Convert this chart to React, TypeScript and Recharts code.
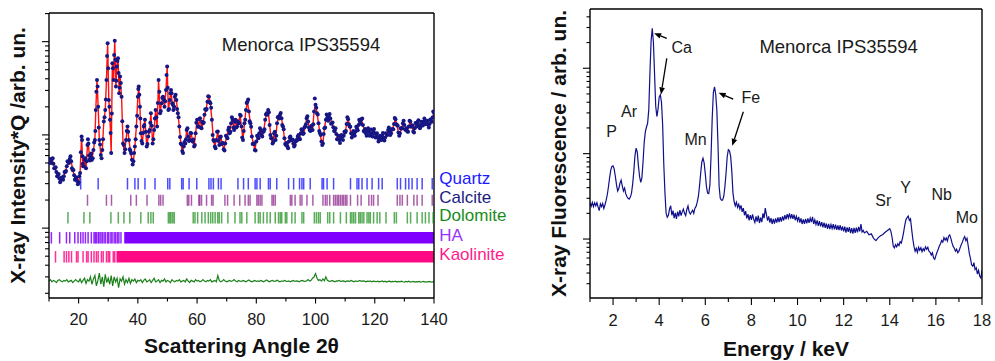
import React from 'react';
import { ComposedChart, XAxis, YAxis, Line, Scatter, ReferenceDot, ReferenceLine } from 'recharts';

const FONT = "'Liberation Sans', Arial, Helvetica, sans-serif";

// ---------------- XRD (left) data ----------------
// calculated profile (red line) – also observed points at the same angles
const xrdPattern: [number, number][] = [
  [10.0,5.0],[10.5,5.2],[11.0,5.5],[11.5,4.9],[12.0,4.4],[12.5,4.0],[13.0,3.7],[13.5,3.4],[14.0,3.3],[14.5,3.4],
  [15.0,3.6],[15.5,4.0],[16.0,4.6],[16.5,5.1],[17.0,5.5],[17.5,5.2],[18.0,4.2],[18.5,3.7],[19.0,3.4],[19.5,3.2],
  [20.0,3.1],[20.5,3.9],[21.0,9.6],[21.3,5.9],[21.5,4.6],[22.0,5.4],[22.5,4.4],[23.0,7.8],[23.3,8.1],[23.7,5.4],
  [24.0,5.9],[24.5,5.4],[25.0,6.9],[25.5,8.8],[25.8,18.5],[26.2,38.8],[26.6,20.1],[27.0,8.8],[27.5,6.1],[28.0,6.9],
  [28.5,13.9],[29.0,18.5],[29.4,38.8],[29.8,95.9],[30.2,23.7],[30.6,14.5],[31.0,6.4],[31.4,58.6],[31.8,38.8],[32.2,102],
  [32.6,33.0],[32.9,54],[33.3,66.3],[33.7,27.9],[34.0,42.2],[34.5,25.7],[35.0,8.1],[35.5,6.4],[36.0,8.8],[36.5,12.3],
  [37.0,8.8],[37.5,6.7],[38.0,5.4],[38.5,5.2],[39.0,7.5],[39.5,12.3],[40.0,25.7],[40.3,33.0],[40.7,20.1],[41.0,10.4],
  [41.5,8.1],[42.0,12.3],[42.4,14.5],[43.0,7.5],[43.5,9.6],[44.0,11.3],[44.4,17.1],[45.0,8.1],[45.5,11.3],[46.0,18.5],
  [46.5,12.3],[47.0,38.8],[47.5,17.1],[48.0,21.8],[48.5,25.7],[49.0,20.1],[49.5,30.4],[49.9,54],[50.3,18.5],[50.8,23.7],
  [51.2,30.4],[51.6,21.8],[52.0,18.5],[52.5,25.7],[53.0,23.7],[53.5,17.1],[54.0,12.3],[54.5,8.1],[55.0,6.7],[55.5,7.5],
  [56.0,8.1],[56.5,11.3],[57.0,9.6],[57.5,8.8],[58.0,10.4],[58.5,8.5],[59.0,7.5],[59.5,10.4],[60.0,14.5],[60.5,12.3],
  [61.0,15.1],[61.5,11.8],[62.0,13.3],[62.5,16.4],[63.0,18.5],[63.5,22.7],[64.0,25.7],[64.5,21.8],[65.0,14.5],[65.5,8.8],
  [66.0,7.5],[66.5,8.8],[67.0,10.9],[67.5,7.8],[68.0,9.6],[68.5,8.1],[69.0,7.0],[69.5,8.1],[70.0,9.6],[70.5,11.3],
  [71.0,10.4],[71.5,13.3],[72.0,14.5],[72.5,11.3],[73.0,14.5],[73.5,12.3],[74.0,13.3],[74.5,16.4],[75.0,12.3],[75.5,8.8],
  [76.0,13.3],[76.5,18.5],[77.0,22.7],[77.5,17.8],[78.0,13.3],[78.5,9.6],[79.0,8.1],[79.5,6.9],[80.0,8.5],[80.5,9.6],
  [81.0,10.4],[81.5,11.3],[82.0,9.6],[82.5,10.9],[83.0,14.5],[83.5,17.1],[84.0,18.5],[84.5,12.8],[85.0,9.2],[85.5,8.1],
  [86.0,10.4],[86.5,8.8],[87.0,13.3],[87.5,15.7],[88.0,16.4],[88.5,15.1],[89.0,12.3],[89.5,9.2],[90.0,7.8],[90.5,7.5],
  [91.0,8.5],[91.5,9.6],[92.0,8.8],[92.5,8.1],[93.0,7.8],[93.5,8.8],[94.0,9.6],[94.5,9.2],[95.0,10.4],[95.5,11.3],
  [96.0,10.4],[96.5,12.3],[97.0,15.1],[97.5,13.9],[98.0,11.3],[98.5,12.3],[99.0,11.3],[99.5,17.8],[100.0,21.0],[100.5,17.1],
  [101.0,13.3],[101.5,10.4],[102.0,8.5],[102.5,8.1],[103.0,11.8],[103.5,14.5],[104.0,15.4],[104.5,15.7],[105.0,15.0],[105.5,13.3],
  [106.0,12.1],[106.5,11.1],[107.0,10.2],[107.5,9.0],[108.0,8.8],[108.5,9.2],[109.0,9.6],[109.5,9.8],[110.0,10.6],[110.5,13.1],
  [111.0,14.7],[111.5,12.3],[112.0,10.4],[112.5,10.0],[113.0,10.4],[113.5,10.9],[114.0,11.8],[114.5,12.8],[115.0,13.9],[115.5,14.7],
  [116.0,12.8],[116.5,10.9],[117.0,10.4],[117.5,10.9],[118.0,10.8],[118.5,10.4],[119.0,10.2],[119.5,10.8],[120.0,10.4],[120.5,10.0],
  [121.0,9.3],[121.5,8.8],[122.0,9.3],[122.5,9.8],[123.0,9.3],[123.5,9.4],[124.0,10.2],[124.5,11.3],[125.0,10.9],[125.5,10.4],
  [126.0,11.5],[126.5,13.1],[127.0,14.7],[127.5,12.8],[128.0,10.6],[128.5,10.4],[129.0,11.7],[129.5,13.3],[130.0,12.8],[130.5,11.3],
  [131.0,10.9],[131.5,12.3],[132.0,13.9],[132.5,12.6],[133.0,10.9],[133.5,11.8],[134.0,13.3],[134.5,13.8],[135.0,12.8],[135.5,12.3],
  [136.0,13.1],[136.5,13.8],[137.0,14.0],[137.5,13.3],[138.0,12.9],[138.5,13.1],[139.0,14.2],[139.5,15.4],[140.0,17.3],
];

// further observed points (blue dots) lying between the angles above
const xrdObsExtra: [number, number][] = [
  [10.25,5.5],[10.75,5.0],[11.25,5.6],[11.75,4.4],[12.25,4.5],[12.75,3.6],[13.25,3.8],[13.75,3.1],[14.25,3.5],[14.75,3.3],
  [15.25,4.0],[15.75,4.1],[16.25,5.2],[16.75,5.0],[17.25,5.9],[17.75,4.4],[18.25,4.2],[18.75,3.3],[19.25,3.5],[19.75,2.95],
  [20.25,3.6],[20.75,6.5],[21.15,8.8],[21.4,4.9],[21.75,4.6],[22.25,5.6],[22.75,5.2],[23.15,9.0],[23.5,6.0],[23.85,5.3],
  [24.25,6.3],[24.75,5.6],[25.25,8.3],[25.65,11.0],[26.0,29],[26.4,33],[26.8,12.0],[27.25,7.9],[27.75,5.6],[28.25,9.0],
  [28.75,15.5],[29.2,24],[29.6,70],[30.0,52],[30.4,20],[30.8,10.5],[31.2,17],[31.6,52],[32.0,72],[32.4,64],
  [32.75,38],[33.1,62],[33.5,46],[33.85,32],[34.25,36],[34.75,14],[35.25,7.8],[35.75,7.0],[36.25,11],[36.75,10.8],
  [37.25,7.0],[37.75,6.3],[38.25,4.8],[38.75,6.4],[39.25,9.0],[39.75,16],[40.15,31],[40.5,27],[40.85,15],[41.25,8.6],
  [41.75,10.5],[42.2,12.8],[42.7,10.8],[43.25,8.0],[43.75,10.8],[44.2,13.5],[44.7,12.5],[45.25,9.0],[45.75,15],[46.25,15.5],
  [46.75,22],[47.25,29],[47.75,18],[48.25,25],[48.75,24],[49.25,23],[49.7,44],[50.1,32],[50.55,19],[51.0,28],
  [51.4,28],[51.8,21],[52.25,20],[52.75,27],[53.25,19],[53.75,15.5],[54.25,9.5],[54.75,7.9],[55.25,6.4],[55.75,8.4],
  [56.25,9.0],[56.75,11.8],[57.25,8.6],[57.75,10.5],[58.25,8.7],[58.75,8.9],[59.25,7.8],[59.75,13.5],[60.25,12.2],[60.75,14.8],
  [61.25,12.0],[61.75,13.8],[62.25,13.6],[62.75,18.8],[63.25,19],[63.75,26],[64.25,22.5],[64.75,19.5],[65.25,10],[65.75,8.6],
  [66.25,7.2],[66.75,10.8],[67.25,8.6],[67.75,9.4],[68.25,8.0],[68.75,8.2],[69.25,6.8],[69.75,9.8],[70.25,9.2],[70.75,12.0],
  [71.25,10.8],[71.75,15.5],[72.25,12.0],[72.75,13.8],[73.25,12.0],[73.75,14.0],[74.25,13.4],[74.75,16.0],[75.25,9.4],[75.75,11.0],
  [76.25,14.5],[76.75,22],[77.25,24],[77.75,14.0],[78.25,12.2],[78.75,8.0],[79.25,8.0],[79.75,6.8],[80.25,9.8],[80.75,9.2],
  [81.25,11.8],[81.75,9.9],[82.25,10.8],[82.75,11.5],[83.25,16.5],[83.75,16.4],[84.25,17.5],[84.75,10.0],[85.25,9.2],[85.75,8.4],
  [86.25,10.8],[86.75,9.8],[87.25,15.5],[87.75,15.0],[88.25,17.2],[88.75,12.8],[89.25,11.5],[89.75,8.0],[90.25,8.2],[90.75,7.2],
  [91.25,9.4],[91.75,8.8],[92.25,8.9],[92.75,7.5],[93.25,8.5],[93.75,8.7],[94.25,10.0],[94.75,9.0],[95.25,11.5],[95.75,10.2],
  [96.25,12.0],[96.75,13.0],[97.25,15.8],[97.75,12.0],[98.25,11.0],[98.75,12.6],[99.25,13.0],[99.75,24.5],[100.25,19.5],[100.75,16.5],
  [101.25,11.0],[101.75,10.0],[102.25,7.8],[102.75,10.2],[103.25,12.0],[103.75,16.5],[104.25,14.2],[104.75,16.8],[105.25,13.2],[105.75,13.6],
  [106.25,11.0],[106.75,11.8],[107.25,9.0],[107.75,9.8],[108.25,8.2],[108.75,10.0],[109.25,8.8],[109.75,10.8],[110.25,11.0],[110.75,15.5],
  [111.25,13.0],[111.75,12.2],[112.25,9.4],[112.75,11.0],[113.25,9.8],[113.75,12.2],[114.25,11.2],[114.75,14.5],[115.25,13.2],[115.75,15.0],
  [116.25,11.0],[116.75,11.6],[117.25,9.8],[117.75,11.8],[118.25,9.8],[118.75,11.4],[119.25,9.6],[119.75,11.6],[120.25,9.4],[120.75,10.4],
  [121.25,8.5],[121.75,9.8],[122.25,8.8],[122.75,10.5],[123.25,8.7],[123.75,10.4],[124.25,10.0],[124.75,12.0],[125.25,10.0],[125.75,11.5],
  [126.25,11.5],[126.75,15.2],[127.25,13.0],[127.75,12.5],[128.25,9.8],[128.75,11.8],[129.25,11.8],[129.75,14.2],[130.25,11.4],[130.75,11.8],
  [131.25,10.8],[131.75,14.2],[132.25,12.2],[132.75,12.6],[133.25,10.6],[133.75,13.4],[134.25,12.4],[134.75,14.4],[135.25,11.8],[135.75,13.8],
  [136.25,12.6],[136.75,15.0],[137.25,13.0],[137.75,14.2],[138.25,12.0],[138.75,14.6],[139.25,13.8],[139.75,17.8],
];

const diffStart = 10;
const diffStep = 0.5;
const diffValues = [
  0.27,0.28,0.265,0.275,0.27,0.26,0.275,0.28,0.27,0.265,0.275,0.27,0.28,0.265,0.27,0.275,0.26,0.27,0.28,0.27,0.265,
  0.285,0.26,0.275,0.29,0.255,0.28,0.27,0.3,0.25,0.285,0.31,0.24,0.275,0.33,0.25,0.3,0.235,0.32,0.26,0.29,
  0.25,0.31,0.24,0.3,0.265,0.29,0.23,0.285,0.27,0.3,0.25,0.28,0.26,0.29,0.255,0.28,0.27,0.285,0.26,0.275,
  0.27,0.28,0.26,0.275,0.285,0.265,0.27,0.28,0.26,0.275,0.29,0.265,0.27,0.28,0.26,0.275,0.27,0.285,0.265,0.275,
  0.27,0.26,0.28,0.27,0.265,0.275,0.27,0.28,0.265,0.27,0.275,0.265,0.285,0.27,0.26,0.275,0.27,0.265,0.28,0.27,
  0.275,0.265,0.27,0.28,0.27,0.265,0.275,0.27,0.28,0.265,0.27,0.275,0.265,0.31,0.275,0.265,0.27,0.28,0.27,0.265,
  0.27,0.275,0.268,0.272,0.28,0.27,0.265,0.275,0.27,0.268,0.275,0.27,0.265,0.272,0.278,0.27,0.265,0.27,0.275,0.268,
  0.272,0.268,0.275,0.27,0.265,0.272,0.278,0.27,0.266,0.272,0.275,0.268,0.27,0.276,0.27,0.265,0.272,0.268,0.275,0.27,
  0.268,0.272,0.265,0.27,0.275,0.268,0.272,0.27,0.265,0.272,0.275,0.27,0.268,0.272,0.28,0.27,0.275,0.29,0.3,0.325,
  0.29,0.275,0.28,0.27,0.285,0.272,0.3,0.275,0.27,0.268,0.275,0.27,0.265,0.272,0.27,0.275,0.268,0.27,0.272,0.266,
  0.27,0.272,0.268,0.275,0.27,0.266,0.272,0.268,0.27,0.275,0.268,0.272,0.27,0.265,0.27,0.268,0.272,0.265,0.27,0.268,
  0.266,0.27,0.265,0.268,0.272,0.266,0.27,0.264,0.268,0.27,0.265,0.268,0.266,0.27,0.264,0.268,0.265,0.27,0.266,0.264,
  0.268,0.265,0.27,0.264,0.266,0.268,0.264,0.267,0.265,0.268,0.264,0.266,0.268,0.264,0.266,0.265,0.268,0.264,0.266,0.265,
];

const quartzPeaks = [20.7,26.6,36.5,39.0,40.1,42.4,45.8,50.1,50.8,54.8,55.3,57.3,59.9,64.0,64.7,65.5,67.2,68.1,73.8,75.7,77.3,79.6,80.2,81.3,84.1,84.7,86.9,90.9,92.6,94.6,95.4,96.0,98.2,102.2,102.7,103.9,106.1,111.8,114.0,114.6,115.7,117.4,119.1,121.3,122.5,127.6,128.7,130.4,131.5,132.6,134.3,136.0,139.4];
const calcitePeaks = [23.0,29.4,31.1,37.6,39.5,43.1,47.1,47.7,48.5,56.7,57.2,58.1,60.6,60.9,61.5,63.2,64.9,65.4,69.4,70.3,72.5,74.4,76.2,77.3,77.9,80.2,80.7,81.3,81.9,85.3,85.8,86.4,91.5,92.0,93.1,94.8,95.4,97.1,99.1,102.5,103.3,103.9,104.8,106.1,106.7,107.3,107.8,108.4,109.0,109.5,110.1,110.6,111.8,114.2,115.4,118.0,118.9,119.6,121.1,127.6,128.5,129.3,131.0,133.2,134.3,136.0,139.4];
const dolomitePeaks = [16.4,21.8,23.8,30.9,33.4,35.3,37.3,41.0,43.5,44.4,45.2,50.3,50.8,51.2,51.8,52.3,58.7,59.3,60.2,61.6,62.7,63.8,64.6,65.3,66.1,67.0,67.5,68.3,70.4,72.8,74.5,75.1,76.8,79.6,80.7,81.3,82.4,83.6,84.7,86.4,87.5,88.1,88.6,89.8,90.3,92.0,93.1,95.4,96.0,99.6,100.3,101.0,101.6,104.1,104.8,106.1,108.4,110.4,111.8,112.3,112.9,113.5,114.6,115.1,115.7,116.3,117.4,118.0,118.5,119.6,120.8,121.7,123.8,126.6,127.3,131.0,132.1,134.3,136.0,137.1,138.3,139.7];
const haPeaks = [10.8,13.6,15.9,17.0,18.7,19.8,20.7,21.5,22.3,23.2,24.3,25.2,25.6,26.0,26.6,26.9,27.5,28.0,28.6,29.1,29.8,30.2,30.9,31.3,32.0,32.5,33.1,33.6,34.3];
const haDenseRange = [35.4, 140];
const kaolinitePeaks = [12.2,15.1,15.9,16.7,17.6,19.3,19.8,21.5,22.7,23.2,24.3,25.2,26.0,26.6,27.7,28.3,29.4,30.0,30.5,31.7,32.2];
const kaoliniteDenseRange = [32.8, 140];

// offsets (in intensity units) at which each phase's reflection markers are plotted
const phaseOffsets = { Quartz: 2.99, Calcite: 1.99, Dolomite: 1.29, HA: 0.787, Kaolinite: 0.492 };
const phaseNames = ['Quartz', 'Calcite', 'Dolomite', 'HA', 'Kaolinite'];

const xrdXTicks = [10,20,30,40,50,60,70,80,90,100,110,120,130,140];
const xrdYTicks = [0.2,0.3,0.4,0.5,0.6,0.7,0.8,0.9,1,2,3,4,5,6,7,8,9,10,20,30,40,50,60,70,80,90,100,200];

// ---------------- XRF (right) data ----------------
const xrfSpectrum: [number, number][] = [
  [1.0,26.4],[1.05,24.2],[1.1,26.8],[1.15,24],[1.2,26.5],[1.25,24.5],[1.3,26.6],[1.35,23.8],[1.4,21.5],[1.45,25.8],
  [1.5,24],[1.55,26],[1.6,22.8],[1.65,25.2],[1.7,28.5],[1.75,33],[1.8,41],[1.85,52],[1.9,64],[1.95,71],
  [2.0,72],[2.05,66],[2.1,54],[2.15,43],[2.2,36.5],[2.25,39],[2.3,45],[2.35,49],[2.4,42],[2.45,36.5],
  [2.5,39.5],[2.55,34],[2.6,31.5],[2.65,30],[2.7,29.4],[2.75,31],[2.8,34.5],[2.85,44],[2.9,62],[2.95,95],
  [3.0,116],[3.05,104],[3.1,72],[3.15,54],[3.2,46],[3.25,52],[3.3,80],[3.35,135],[3.4,180],[3.45,205],
  [3.5,228],[3.55,330],[3.6,900],[3.65,2100],[3.7,2940],[3.75,2000],[3.8,850],[3.85,360],[3.9,272],[3.95,330],
  [4.0,460],[4.05,490],[4.1,400],[4.15,220],[4.2,75],[4.25,35],[4.3,20.1],[4.35,18],[4.4,19],[4.45,22.5],
  [4.5,24.5],[4.55,19],[4.6,21.5],[4.65,17.6],[4.7,20.2],[4.75,17.2],[4.8,21],[4.85,18.4],[4.9,21.8],[4.95,18.8],
  [5.0,20.8],[5.05,22.4],[5.1,20],[5.15,18.8],[5.2,22.2],[5.25,24.4],[5.3,20.8],[5.35,19.6],[5.4,20.6],[5.45,21.8],
  [5.5,20],[5.55,23],[5.6,24.1],[5.65,27],[5.7,31.5],[5.75,42],[5.8,59],[5.85,80],[5.9,88.5],[5.95,78],
  [6.0,58],[6.05,41],[6.1,34.5],[6.15,34],[6.2,43],[6.25,95],[6.3,260],[6.35,520],[6.4,605],[6.45,500],
  [6.5,326],[6.55,130],[6.6,41.3],[6.65,30],[6.7,28.6],[6.75,28.5],[6.8,31.5],[6.85,41],[6.9,59],[6.95,92],
  [7.0,111],[7.05,108],[7.1,92.7],[7.15,62],[7.2,34.5],[7.25,27.5],[7.3,24.5],[7.35,27],[7.4,23.5],[7.45,25.5],
  [7.5,22.5],[7.55,24.8],[7.6,20.8],[7.65,23],[7.7,19],[7.75,21.2],[7.8,17.5],[7.85,19.6],[7.9,16.5],[7.95,19],
  [8.0,16.8],[8.05,19.4],[8.1,17],[8.15,15.6],[8.2,18.4],[8.25,16],[8.3,18.8],[8.35,15.4],[8.4,17.8],[8.45,15.8],
  [8.5,20],[8.55,17.5],[8.6,23],[8.65,19.5],[8.7,16.4],[8.75,18.4],[8.8,15.6],[8.85,17.6],[8.9,15],[8.95,17.2],
  [9.0,15.2],[9.05,17.4],[9.1,15.6],[9.15,17.9],[9.2,15.8],[9.25,18],[9.3,16],[9.35,18.4],[9.4,16.5],[9.45,19],
  [9.5,17],[9.55,19.6],[9.6,17.6],[9.65,20],[9.7,17.4],[9.75,19.6],[9.8,17.2],[9.85,19.3],[9.9,16.6],[9.95,18.5],
  [10.0,16.3],[10.05,18.2],[10.1,15.6],[10.15,17.5],[10.2,15],[10.25,17],[10.3,15.1],[10.35,17.2],[10.4,15.3],[10.45,17.4],
  [10.5,15.5],[10.55,17.6],[10.6,15.8],[10.65,18.2],[10.7,15],[10.75,16.8],[10.8,14.8],[10.85,16.5],[10.9,14.3],[10.95,16.2],
  [11.0,14.1],[11.05,15.8],[11.1,13.7],[11.15,15.6],[11.2,13.5],[11.25,15.2],[11.3,13.2],[11.35,15],[11.4,13.1],[11.45,14.8],
  [11.5,13.3],[11.55,14.9],[11.6,13],[11.65,14.7],[11.7,12.8],[11.75,14.4],[11.8,12.7],[11.85,14.5],[11.9,12.6],[11.95,14.1],
  [12.0,12.3],[12.05,14],[12.1,11.9],[12.15,13.7],[12.2,12.1],[12.25,13.8],[12.3,11.7],[12.35,13.4],[12.4,11.6],[12.45,13.5],
  [12.5,11.8],[12.55,13.6],[12.6,12],[12.65,13.9],[12.7,12.3],[12.75,15],[12.8,12.1],[12.85,12.6],[12.9,11.8],[13.0,12.3],
  [13.1,11.2],[13.2,11.5],[13.3,10.2],[13.4,9.6],[13.5,10.4],[13.6,10.9],[13.7,11.3],[13.8,12.0],[13.9,12.6],[14.0,13.2],
  [14.05,12.3],[14.1,10.5],[14.15,8.3],[14.2,7.9],[14.25,8.6],[14.3,8.1],[14.35,8.8],[14.4,8.4],[14.45,9.3],[14.5,9.0],
  [14.55,10.2],[14.6,12.0],[14.65,14.5],[14.7,16.8],[14.75,17.8],[14.8,18.6],[14.85,16.5],[14.9,17.2],[14.95,13.0],[15.0,10.0],
  [15.05,8.2],[15.1,7.2],[15.15,7.8],[15.2,7.0],[15.25,8.0],[15.3,7.4],[15.35,7.9],[15.4,7.1],[15.45,7.7],[15.5,7.3],
  [15.55,8.1],[15.6,7.6],[15.65,8.0],[15.7,7.2],[15.75,7.0],[15.8,6.5],[15.85,6.9],[15.9,6.0],[15.95,5.8],[16.0,6.4],
  [16.05,7.0],[16.1,7.6],[16.15,8.3],[16.2,8.8],[16.25,9.6],[16.3,9.2],[16.35,10.4],[16.4,9.7],[16.45,10.3],[16.5,9.5],
  [16.55,10.8],[16.6,11.2],[16.65,10.2],[16.7,9.0],[16.75,8.2],[16.8,7.8],[16.85,7.2],[16.9,7.6],[16.95,6.9],[17.0,7.2],
  [17.05,7.9],[17.1,8.6],[17.15,9.2],[17.2,10.1],[17.25,10.7],[17.3,9.6],[17.35,10.2],[17.4,8.4],[17.45,6.8],[17.5,5.9],
  [17.55,5.0],[17.6,4.8],[17.65,5.3],[17.7,4.4],[17.75,4.6],[17.8,3.9],[17.85,4.3],[17.9,3.7],[17.95,3.5],[18.0,4.3],
];

const xrfXTicks = [1,2,3,4,5,6,7,8,9,10,11,12,13,14,15,16,17,18];
const xrfYTicks = [3,4,5,6,7,8,9,10,20,30,40,50,60,70,80,90,100,200,300,400,500,600,700,800,900,1000,2000,3000,4000];

// ---------------- helpers ----------------
const xrdCalc = xrdPattern.map(([x, y]) => ({ x, y }));
const xrdObs = [...xrdPattern, ...xrdObsExtra].map(([x, y]) => ({ x, y }));
const diffData = diffValues.map((y, i) => ({ x: diffStart + i * diffStep, y }));
const rowData = (peaks: number[], level: number) => peaks.map((x) => ({ x, y: level }));
const xrfData = xrfSpectrum.map(([x, y]) => ({ x, y }));

const makeLeftTick = (majors: number[], majorLen: number, minorLen: number) => (p: any) => {
  const v = p.payload.value;
  const len = majors.includes(v) ? majorLen : minorLen;
  return <line x1={p.x - len} x2={p.x} y1={p.y} y2={p.y} stroke="#000" strokeWidth={1.1} />;
};

const makeBottomTick = (isMajor: (v: number) => boolean, majorLen: number, minorLen: number, labelDy: number) => (p: any) => {
  const v = p.payload.value;
  const major = isMajor(v);
  return (
    <g>
      <line x1={p.x} x2={p.x} y1={p.y} y2={p.y + (major ? majorLen : minorLen)} stroke="#000" strokeWidth={1.1} />
      {major && (
        <text x={p.x} y={p.y + labelDy} textAnchor="middle" fontFamily={FONT} fontSize={16.5} fill="#1a1a1a">{v}</text>
      )}
    </g>
  );
};

const topInTick = (p: any) => <line x1={p.x} x2={p.x} y1={p.y} y2={p.y + 5.5} stroke="#000" strokeWidth={1.1} />;

const makeXTitle = (text: string, dy: number) => (p: any) => {
  const vb = p.viewBox || { x: 0, y: 0, width: 0, height: 0 };
  return (
    <text x={vb.x + vb.width / 2} y={vb.y + dy} textAnchor="middle" fontFamily={FONT} fontWeight="bold" fontSize={21} fill="#111">{text}</text>
  );
};

const makeYTitle = (text: string, baselineX: number) => (p: any) => {
  const vb = p.viewBox || { x: 0, y: 0, width: 0, height: 0 };
  const cy = vb.y + vb.height / 2;
  return (
    <text transform={`translate(${baselineX},${cy}) rotate(-90)`} textAnchor="middle" fontFamily={FONT} fontWeight="bold" fontSize={21} fill="#111">{text}</text>
  );
};

const textShape = (label: string, color: string, size: number, anchor: 'start' | 'middle' = 'middle') => (p: any) => (
  <text x={p.cx} y={p.cy} textAnchor={anchor} fontFamily={FONT} fontSize={size} fill={color}>{label}</text>
);

const tickShape = (color: string, h: number, opacity: number) => (p: any) => (
  <line x1={p.cx} x2={p.cx} y1={p.cy - h / 2} y2={p.cy + h / 2} stroke={color} strokeWidth={1.5} strokeOpacity={opacity} />
);

const obsDot = (p: any) => <circle cx={p.cx} cy={p.cy} r={2} fill="#161684" />;

const arrowShape = (p: any) => {
  const { x1, y1, x2, y2 } = p;
  const ang = Math.atan2(y2 - y1, x2 - x1);
  const L = 7, W = 2.8;
  const bx = x2 - L * Math.cos(ang), by = y2 - L * Math.sin(ang);
  const px = -Math.sin(ang) * W, py = Math.cos(ang) * W;
  return (
    <g>
      <line x1={x1} y1={y1} x2={bx} y2={by} stroke="#000" strokeWidth={1.3} />
      <polygon points={`${x2},${y2} ${bx + px},${by + py} ${bx - px},${by - py}`} fill="#000" />
    </g>
  );
};

const axisLineStyle = { stroke: '#000', strokeWidth: 1.4 };

// phase display styles
const phaseStyle: Record<string, { tick: string; text: string; opacity: number; h: number }> = {
  Quartz: { tick: '#1010ff', text: '#1a1aff', opacity: 0.75, h: 11.5 },
  Calcite: { tick: '#861a86', text: '#1c1c82', opacity: 0.7, h: 11 },
  Dolomite: { tick: '#138a13', text: '#1a8c1a', opacity: 0.7, h: 11.5 },
  HA: { tick: '#8000ff', text: '#9933ff', opacity: 0.85, h: 11.5 },
  Kaolinite: { tick: '#ff0a84', text: '#ff1a8c', opacity: 0.85, h: 11.5 },
};
const phasePeaks: Record<string, number[]> = {
  Quartz: quartzPeaks, Calcite: calcitePeaks, Dolomite: dolomitePeaks, HA: haPeaks, Kaolinite: kaolinitePeaks,
};
// legend label baselines (intensity units), placed just right of the frame
const legendLevels: Record<string, number> = { Quartz: 2.98, Calcite: 1.87, Dolomite: 1.2, HA: 0.735, Kaolinite: 0.46 };

function XrdChart() {
  return (
    <ComposedChart width={520} height={361} margin={{ top: 0, right: 0, bottom: 0, left: 0 }}>
      <XAxis type="number" dataKey="x" domain={[10, 140]} allowDataOverflow ticks={xrdXTicks} interval={0}
        height={63} tickSize={0} tickMargin={0} tickLine={false} axisLine={axisLineStyle}
        tick={makeBottomTick((v) => v % 20 === 0, 5.5, 3.5, 26.5)}
        label={{ content: makeXTitle('Scattering Angle 2θ', 55) }} />
      <XAxis xAxisId="top" orientation="top" type="number" domain={[10, 140]} allowDataOverflow ticks={xrdXTicks} interval={0}
        height={13} tickSize={0} tickMargin={0} tickLine={false} axisLine={axisLineStyle} tick={topInTick} />
      <YAxis type="number" dataKey="y" scale="log" domain={[0.178, 203]} allowDataOverflow ticks={xrdYTicks} interval={0}
        width={49} tickSize={0} tickMargin={0} tickLine={false} axisLine={axisLineStyle}
        tick={makeLeftTick([1, 10, 100], 7, 4)}
        label={{ content: makeYTitle('X-ray Intensity*Q /arb. un.', 24.5) }} />
      <YAxis yAxisId="right" orientation="right" type="number" domain={[0, 1]} width={86} tick={false} tickLine={false} axisLine={axisLineStyle} />

      {phaseNames.map((name) => (
        <Scatter key={name} data={rowData(phasePeaks[name], (phaseOffsets as any)[name])} dataKey="y"
          shape={tickShape(phaseStyle[name].tick, phaseStyle[name].h, phaseStyle[name].opacity)} isAnimationActive={false} />
      ))}
      <Line data={haDenseRange.map((x) => ({ x, y: phaseOffsets.HA }))} dataKey="y" stroke="#8000ff" strokeWidth={11.5}
        dot={false} isAnimationActive={false} strokeLinecap="butt" />
      <Line data={kaoliniteDenseRange.map((x) => ({ x, y: phaseOffsets.Kaolinite }))} dataKey="y" stroke="#ff0a84" strokeWidth={11.5}
        dot={false} isAnimationActive={false} strokeLinecap="butt" />

      <Line data={diffData} dataKey="y" stroke="#1a801a" strokeWidth={1.2} dot={false} isAnimationActive={false} />
      <Scatter data={xrdObs} dataKey="y" shape={obsDot} isAnimationActive={false} />
      <Line data={xrdCalc} dataKey="y" stroke="#ff1010" strokeWidth={1.4} dot={false} isAnimationActive={false} />

      <ReferenceDot x={95.1} y={79.4} ifOverflow="visible" shape={textShape('Menorca IPS35594', '#1a1a1a', 18.5)} />
      {phaseNames.map((name) => (
        <ReferenceDot key={'lg' + name} x={141.8} y={legendLevels[name]} ifOverflow="visible"
          shape={textShape(name, phaseStyle[name].text, 17, 'start')} />
      ))}
    </ComposedChart>
  );
}

const xrfLabels: { t: string; x: number; y: number }[] = [
  { t: 'P', x: 1.94, y: 158 },
  { t: 'Ar', x: 2.69, y: 270 },
  { t: 'Ca', x: 4.98, y: 1517 },
  { t: 'Mn', x: 5.58, y: 126 },
  { t: 'Fe', x: 7.97, y: 394 },
  { t: 'Sr', x: 13.72, y: 24.5 },
  { t: 'Y', x: 14.69, y: 34.3 },
  { t: 'Nb', x: 16.25, y: 28.6 },
  { t: 'Mo', x: 17.34, y: 15.5 },
];
const xrfArrows: [number, number, number, number][] = [
  [4.33, 2239, 3.78, 2564],
  [4.33, 1306, 4.08, 494],
  [7.21, 435, 6.58, 516],
  [7.65, 310, 7.17, 124],
];

function XrfChart() {
  return (
    <ComposedChart width={495} height={361} margin={{ top: 0, right: 0, bottom: 0, left: 0 }}>
      <XAxis type="number" dataKey="x" domain={[1, 18]} allowDataOverflow ticks={xrfXTicks} interval={0}
        height={63} tickSize={0} tickMargin={0} tickLine={false} axisLine={axisLineStyle}
        tick={makeBottomTick((v) => v % 2 === 0, 7, 4, 28)}
        label={{ content: makeXTitle('Energy / keV', 58) }} />
      <XAxis xAxisId="top" orientation="top" type="number" domain={[1, 18]} allowDataOverflow height={9}
        tick={false} tickLine={false} axisLine={axisLineStyle} />
      <YAxis type="number" dataKey="y" scale="log" domain={[2.04, 4940]} allowDataOverflow ticks={xrfYTicks} interval={0}
        width={90} tickSize={0} tickMargin={0} tickLine={false} axisLine={axisLineStyle}
        tick={makeLeftTick([10, 100, 1000], 7, 3.5)}
        label={{ content: makeYTitle('X-ray Fluorescence / arb. un.', 66) }} />
      <YAxis yAxisId="right" orientation="right" type="number" domain={[0, 1]} width={13} tick={false} tickLine={false} axisLine={axisLineStyle} />

      <Line data={xrfData} dataKey="y" stroke="#10108c" strokeWidth={1.2} dot={false} isAnimationActive={false} />

      <ReferenceDot x={11.78} y={1507} ifOverflow="visible" shape={textShape('Menorca IPS35594', '#1a1a1a', 18.5)} />
      {xrfLabels.map((l) => (
        <ReferenceDot key={l.t} x={l.x} y={l.y} ifOverflow="visible" shape={textShape(l.t, '#1a1a1a', 16)} />
      ))}
      {xrfArrows.map((a, i) => (
        <ReferenceLine key={'ar' + i} segment={[{ x: a[0], y: a[1] }, { x: a[2], y: a[3] }]} ifOverflow="visible" shape={arrowShape} />
      ))}
    </ComposedChart>
  );
}

export default function App() {
  return (
    <div style={{ position: 'absolute', left: 0, top: 0, width: 995, height: 361, background: '#fff' }}>
      <div style={{ position: 'absolute', left: 0, top: 0 }}>
        <XrdChart />
      </div>
      <div style={{ position: 'absolute', left: 500, top: 0 }}>
        <XrfChart />
      </div>
    </div>
  );
}
